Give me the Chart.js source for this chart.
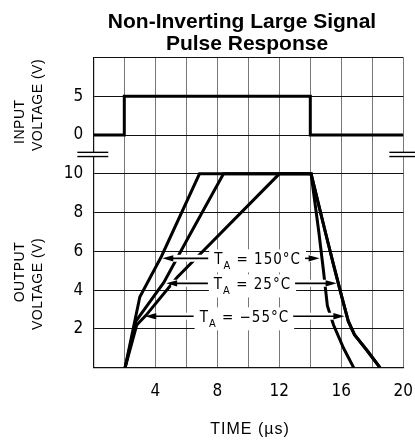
<!DOCTYPE html>
<html>
<head>
<meta charset="utf-8">
<script src="https://cdn.jsdelivr.net/npm/chart.js@4.4.0/dist/chart.umd.min.js"></script>
<style>
  html, body { margin: 0; padding: 0; background: #fff; }
</style>
</head>
<body>
<canvas id="pulseChart" width="415" height="442"></canvas>
<script>
// time in microseconds, voltages in volts
const inputTime  = [0, 2, 2, 14, 14, 20];
const inputVolts = [0, 0, 5, 5, 0, 0];

const time150  = [2.05, 3.0, 4.4, 6.85, 14.05, 14.55, 14.85, 15.1, 15.5, 16.15, 16.8];
const volts150 = [0, 3.65, 5.75, 10, 10, 7, 5, 3.2, 2.2, 1.0, 0];

const time25  = [2.05, 2.75, 4.55, 6.05, 8.4, 14.05, 14.97, 15.5, 16.05, 16.45, 16.85, 17.65, 18.5];
const volts25 = [0, 2.4, 4.4, 6.6, 10, 10, 7, 5.3, 3.6, 2.4, 1.7, 0.9, 0];

const timeM55  = [2.05, 2.8, 3.4, 5.4, 12, 14.05, 14.97, 15.5, 16.05, 16.45, 16.85, 17.65, 18.5];
const voltsM55 = [0, 2.2, 2.7, 4.65, 10, 10, 7, 5.3, 3.6, 2.4, 1.7, 0.9, 0];

const timeTicks   = [4, 8, 12, 16, 20];
const outputTicks = [2, 4, 6, 8, 10];
const inputTicks  = [0, 5];
const tempLabels  = ['150', '25', '\u221255'];

// output axis runs 0..16, input axis shares the same pixels
const OUT_MAX = 16, IN_MIN = -30, IN_MAX = 10;
const inToOut = v => (v - IN_MIN) / (IN_MAX - IN_MIN) * OUT_MAX;

const NARROW = '"Liberation Sans Narrow", "DejaVu Sans Condensed", sans-serif';

function pts(ts, vs) {
  return ts.map((t, i) => ({ x: t, y: vs[i] }));
}

// where the T_A labels sit (data coords) and where their arrows point
const notes = [
  { t: 10.6,  v: 5.64, tipL: 4.45, tipR: 14.6 },
  { t: 10.27, v: 4.35, tipL: 4.7,  tipR: 15.7 },
  { t: 9.75,  v: 2.65, tipL: 3.35, tipR: 16.2 }
];

function arrow(ctx, x0, yc, x1) {
  const dir = Math.sign(x1 - x0);
  ctx.strokeStyle = '#fff';
  ctx.lineWidth = 7;
  ctx.beginPath(); ctx.moveTo(x0, yc); ctx.lineTo(x1 - dir * 5, yc); ctx.stroke();
  ctx.strokeStyle = '#000';
  ctx.lineWidth = 1.6;
  ctx.beginPath(); ctx.moveTo(x0, yc); ctx.lineTo(x1 - dir * 8, yc); ctx.stroke();
  ctx.fillStyle = '#000';
  ctx.beginPath();
  ctx.moveTo(x1, yc);
  ctx.lineTo(x1 - dir * 11, yc - 3.2);
  ctx.lineTo(x1 - dir * 11, yc + 3.2);
  ctx.closePath();
  ctx.fill();
}

const decor = {
  id: 'decor',
  afterDatasetsDraw(chart) {
    const { ctx, scales: { x, y } } = chart;
    ctx.save();
    ctx.textBaseline = 'alphabetic';
    notes.forEach((n, i) => {
      const cx = x.getPixelForValue(n.t);
      const yc = y.getPixelForValue(n.v);
      const rest = ' = ' + tempLabels[i] + '\u00B0C';
      ctx.font = '15px ' + NARROW;
      ctx.letterSpacing = '1px';
      const wT = ctx.measureText('T').width;
      const wRest = ctx.measureText(rest).width;
      ctx.font = '11px ' + NARROW;
      const wA = ctx.measureText('A').width;
      const total = wT + wA + wRest;
      const left = cx - total / 2;
      ctx.fillStyle = '#fff';
      ctx.fillRect(left - 5, yc - 9, total + 10, 23);
      ctx.letterSpacing = '0px';
      arrow(ctx, left - 6, yc, x.getPixelForValue(n.tipL));
      arrow(ctx, left + total + 4, yc, x.getPixelForValue(n.tipR));
      ctx.fillStyle = '#000';
      ctx.letterSpacing = '1px';
      ctx.font = '15px ' + NARROW;
      ctx.fillText('T', left, yc + 5.5);
      ctx.font = '11px ' + NARROW;
      ctx.fillText('A', left + wT, yc + 11);
      ctx.font = '15px ' + NARROW;
      ctx.fillText(rest, left + wT + wA, yc + 5.5);
    });
    ctx.restore();
  },
  afterDraw(chart) {
    const { ctx, chartArea: a, scales: { y } } = chart;
    ctx.save();

    // axis break marks
    const yb = y.getPixelForValue(11);
    ctx.fillStyle = '#fff';
    ctx.fillRect(a.left - 2, yb - 2.1, 4, 4.2);
    ctx.fillRect(a.right - 2, yb - 2.1, 4, 4.2);
    ctx.strokeStyle = '#000';
    ctx.lineWidth = 1.4;
    [-2.1, 2.1].forEach(d => {
      ctx.beginPath(); ctx.moveTo(a.left - 16, yb + d); ctx.lineTo(a.left + 15, yb + d); ctx.stroke();
      ctx.beginPath(); ctx.moveTo(a.right - 14, yb + d); ctx.lineTo(a.right + 12, yb + d); ctx.stroke();
    });

    // title
    ctx.fillStyle = '#000';
    ctx.textAlign = 'center';
    ctx.textBaseline = 'middle';
    ctx.font = 'bold 21px "Liberation Sans", Arial, sans-serif';
    ctx.fillText('Non-Inverting Large Signal', 242, 22);
    ctx.fillText('Pulse Response', 247, 44.5);

    // axis titles
    ctx.font = '14px "Liberation Sans", Arial, sans-serif';
    ctx.letterSpacing = '0.5px';
    const vtext = (s, px, py) => {
      ctx.save(); ctx.translate(px, py); ctx.rotate(-Math.PI / 2);
      ctx.fillText(s, 0, 0); ctx.restore();
    };
    vtext('INPUT', 20, 121.7);
    vtext('VOLTAGE (V)', 38, 105);
    vtext('OUTPUT', 20, 272);
    vtext('VOLTAGE (V)', 38, 284);

    ctx.font = '16px "Liberation Sans", Arial, sans-serif';
    ctx.letterSpacing = '1px';
    ctx.fillText('TIME (\u00B5s)', 250, 430);
    ctx.restore();
  }
};

const datasets = [
  { data: pts(inputTime, inputVolts), yAxisID: 'yIn' },
  { data: pts(time150, volts150), yAxisID: 'y' },
  { data: pts(time25, volts25), yAxisID: 'y' },
  { data: pts(timeM55, voltsM55), yAxisID: 'y' }
].map(d => Object.assign(d, {
  borderColor: '#000', borderWidth: 3, pointRadius: 0, tension: 0, fill: false
}));

new Chart(document.getElementById('pulseChart'), {
  type: 'line',
  data: { datasets: datasets },
  options: {
    responsive: false,
    animation: false,
    layout: { padding: { top: 57.5, right: 11.7, bottom: 0, left: 0 } },
    plugins: { legend: { display: false }, title: { display: false }, tooltip: { enabled: false } },
    scales: {
      x: {
        type: 'linear', min: 0, max: 20,
        grid: { color: '#777', lineWidth: 1, drawTicks: false },
        border: { color: '#111', width: 1.2 },
        ticks: {
          stepSize: 2, autoSkip: false, maxRotation: 0, padding: 14, color: '#000',
          font: { family: NARROW, size: 17 },
          callback: v => timeTicks.includes(v) ? v : ''
        },
        afterFit: s => { s.height = 442 - 367.7; s.paddingLeft = 0; s.paddingRight = 0; }
      },
      y: {
        type: 'linear', min: 0, max: OUT_MAX,
        grid: { color: '#111', lineWidth: 1, drawTicks: false },
        border: { color: '#111', width: 1.2 },
        ticks: {
          stepSize: 2, autoSkip: false, padding: 10, color: '#000',
          font: { family: NARROW, size: 17 },
          callback: v => {
            if (outputTicks.includes(v)) return v;
            const hit = inputTicks.find(iv => Math.abs(inToOut(iv) - v) < 1e-6);
            return hit !== undefined ? hit : '';
          }
        },
        afterFit: s => { s.width = 93.3; }
      },
      yIn: {
        type: 'linear', min: IN_MIN, max: IN_MAX, display: false
      }
    }
  },
  plugins: [decor]
});
</script>
</body>
</html>
